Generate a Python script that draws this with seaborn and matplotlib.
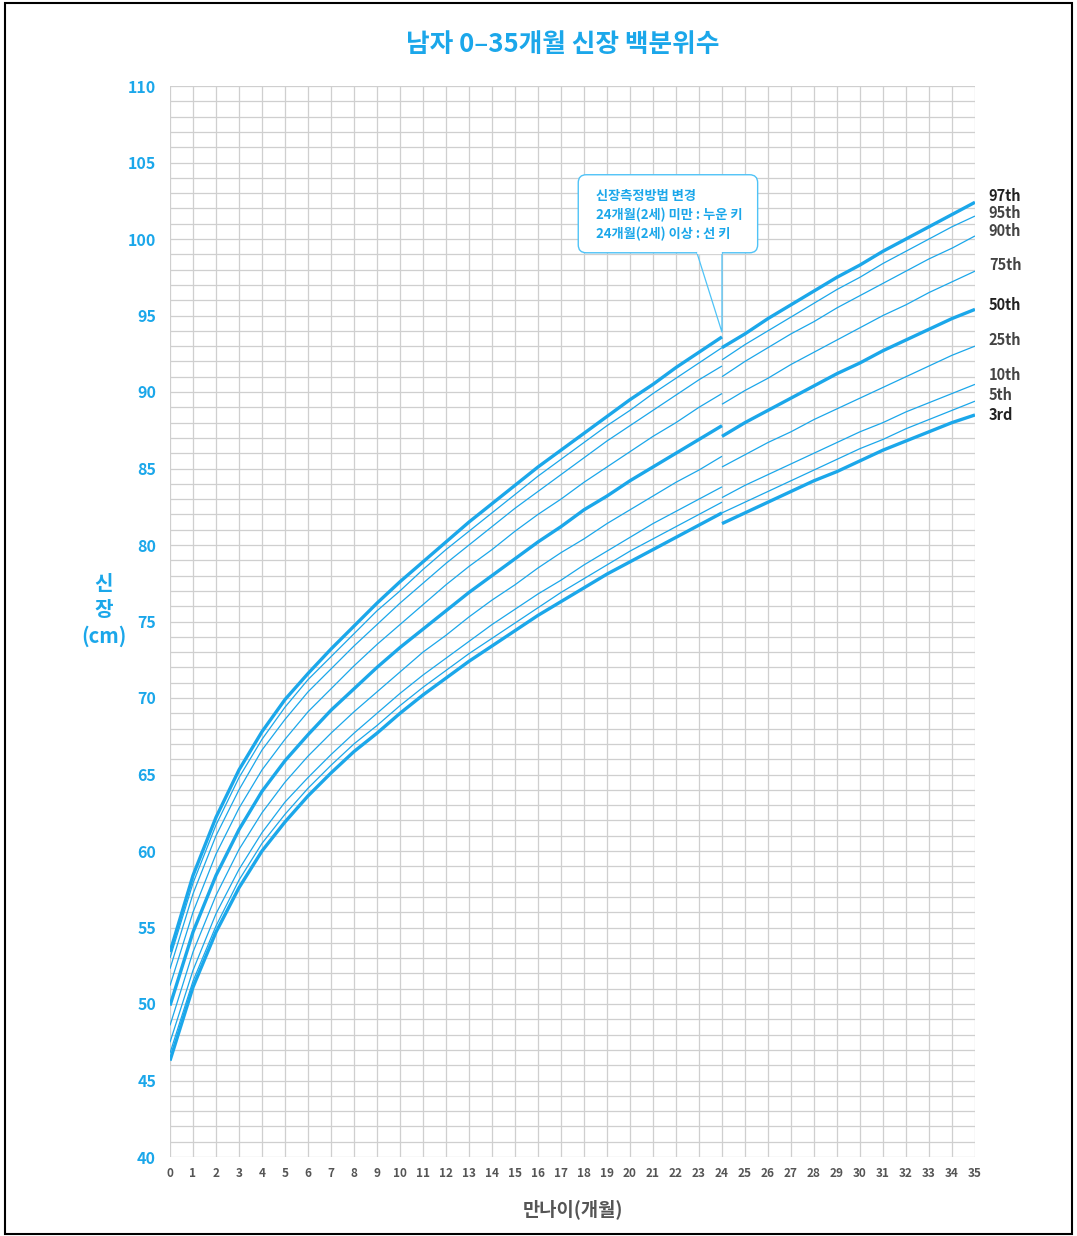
import numpy as np
import matplotlib
matplotlib.use("Agg")
import matplotlib.pyplot as plt
from matplotlib.patches import FancyBboxPatch, Polygon, Rectangle
import seaborn as sns
import pandas as pd

sns.set_style("white")
plt.rcParams['font.family'] = ['Noto Sans CJK KR', 'DejaVu Sans']

# percentiles (boys, height in cm)
percentiles = ['3rd', '5th', '10th', '25th', '50th', '75th', '90th', '95th', '97th']
bold_lines = ['3rd', '50th', '97th']

# 0-24 months: lying length
months_lying = list(range(0, 25))
lying = {
    '3rd':  [46.3, 51.1, 54.7, 57.6, 60.0, 61.9, 63.6, 65.1, 66.5, 67.7, 69.0, 70.2, 71.3,
             72.4, 73.4, 74.4, 75.4, 76.3, 77.2, 78.1, 78.9, 79.7, 80.5, 81.3, 82.1],
    '5th':  [46.8, 51.5, 55.1, 58.1, 60.5, 62.4, 64.1, 65.6, 67.0, 68.2, 69.5, 70.7, 71.8,
             72.9, 73.9, 74.9, 75.9, 76.9, 77.8, 78.7, 79.6, 80.4, 81.2, 82.0, 82.8],
    '10th': [47.5, 52.2, 55.9, 58.8, 61.2, 63.2, 64.8, 66.3, 67.7, 69.0, 70.3, 71.5, 72.6,
             73.7, 74.8, 75.8, 76.8, 77.7, 78.7, 79.6, 80.5, 81.4, 82.2, 83.0, 83.8],
    '25th': [48.6, 53.4, 57.1, 60.1, 62.5, 64.5, 66.2, 67.7, 69.1, 70.4, 71.7, 73.0, 74.1,
             75.3, 76.4, 77.4, 78.5, 79.5, 80.4, 81.4, 82.3, 83.2, 84.1, 84.9, 85.8],
    '50th': [49.9, 54.7, 58.4, 61.4, 63.9, 65.9, 67.6, 69.2, 70.6, 72.0, 73.3, 74.5, 75.7,
             76.9, 78.0, 79.1, 80.2, 81.2, 82.3, 83.2, 84.2, 85.1, 86.0, 86.9, 87.8],
    '75th': [51.2, 56.0, 59.8, 62.8, 65.3, 67.3, 69.1, 70.6, 72.1, 73.5, 74.8, 76.1, 77.4,
             78.6, 79.7, 80.9, 82.0, 83.0, 84.1, 85.1, 86.1, 87.1, 88.0, 89.0, 89.9],
    '90th': [52.3, 57.2, 61.0, 64.0, 66.6, 68.6, 70.4, 71.9, 73.4, 74.8, 76.2, 77.5, 78.8,
             80.0, 81.2, 82.4, 83.5, 84.6, 85.7, 86.8, 87.8, 88.8, 89.8, 90.8, 91.7],
    '95th': [53.0, 57.9, 61.7, 64.8, 67.3, 69.4, 71.2, 72.7, 74.2, 75.7, 77.0, 78.4, 79.7,
             80.9, 82.1, 83.3, 84.5, 85.6, 86.7, 87.8, 88.8, 89.9, 90.9, 91.9, 92.9],
    '97th': [53.4, 58.4, 62.2, 65.3, 67.8, 69.9, 71.6, 73.2, 74.7, 76.2, 77.6, 78.9, 80.2,
             81.5, 82.7, 83.9, 85.1, 86.2, 87.3, 88.4, 89.5, 90.5, 91.6, 92.6, 93.6],
}

# 24-35 months: standing height
months_standing = list(range(24, 36))
standing = {
    '3rd':  [81.4, 82.1, 82.8, 83.5, 84.2, 84.8, 85.5, 86.2, 86.8, 87.4, 88.0, 88.5],
    '5th':  [82.1, 82.8, 83.5, 84.2, 84.9, 85.6, 86.3, 86.9, 87.6, 88.2, 88.8, 89.4],
    '10th': [83.1, 83.9, 84.6, 85.3, 86.0, 86.7, 87.4, 88.0, 88.7, 89.3, 89.9, 90.5],
    '25th': [85.1, 85.9, 86.7, 87.4, 88.2, 88.9, 89.6, 90.3, 91.0, 91.7, 92.4, 93.0],
    '50th': [87.1, 88.0, 88.8, 89.6, 90.4, 91.2, 91.9, 92.7, 93.4, 94.1, 94.8, 95.4],
    '75th': [89.2, 90.1, 90.9, 91.8, 92.6, 93.4, 94.2, 95.0, 95.7, 96.5, 97.2, 97.9],
    '90th': [91.0, 92.0, 92.9, 93.8, 94.6, 95.5, 96.3, 97.1, 97.9, 98.7, 99.4, 100.2],
    '95th': [92.1, 93.1, 94.0, 94.9, 95.8, 96.7, 97.5, 98.4, 99.2, 100.0, 100.8, 101.5],
    '97th': [92.9, 93.8, 94.8, 95.7, 96.6, 97.5, 98.3, 99.2, 100.0, 100.8, 101.6, 102.4],
}

# nudges so the right-hand labels do not collide
label_nudge = [0.0, 0.4, 0.6, 0.4, 0.3, 0.4, 0.3, 0.2, 0.4]

blue = '#1ba7ea'
grid_c = '#cfcfcf'

rows = []
for p in percentiles:
    for m, h in zip(months_lying, lying[p]):
        rows.append((m, h, p, 'lying'))
    for m, h in zip(months_standing, standing[p]):
        rows.append((m, h, p, 'standing'))
df = pd.DataFrame(rows, columns=['month', 'height', 'pct', 'seg'])

fig = plt.figure(figsize=(10.77, 12.36), dpi=100)
ax = fig.add_axes([170 / 1077, 79 / 1236, 805 / 1077, 1071 / 1236])

for p in percentiles:
    lw = 2.4 if p in bold_lines else 0.9
    for seg in ['lying', 'standing']:
        sub = df[(df.pct == p) & (df.seg == seg)]
        sns.lineplot(data=sub, x='month', y='height', ax=ax, color=blue,
                     linewidth=lw, solid_capstyle='butt', zorder=3)

ax.set_xlim(0, 35)
ax.set_ylim(40, 110)
ax.set_xticks(range(0, 36))
ax.set_yticks(range(40, 111, 5))
ax.set_yticks(range(40, 111), minor=True)
ax.grid(True, which='both', color=grid_c, linewidth=0.9)
ax.set_axisbelow(True)
for s in ax.spines.values():
    s.set_visible(False)
ax.tick_params(axis='both', which='both', length=0)
ax.tick_params(axis='y', pad=10, labelsize=11.5, labelcolor=blue)
ax.tick_params(axis='x', pad=7, labelsize=8.5, labelcolor='#555555')
for t in ax.get_yticklabels():
    t.set_fontweight('bold')
for t in ax.get_xticklabels():
    t.set_fontweight('bold')
ax.set_xlabel('만나이(개월)', fontsize=13.5, color='#555555', fontweight='bold', labelpad=14)
ax.set_ylabel('')
fig.text(104 / 1077, 1 - 610 / 1236, '신\n장\n(cm)', ha='center', va='center',
         fontsize=14.5, color=blue, fontweight='bold', linespacing=1.3)

# percentile labels at the right end
for p, nudge in zip(percentiles, label_nudge):
    yv = standing[p][-1] + nudge
    ax.text(35.6, yv, p, ha='left', va='center', fontsize=10.5,
            color='#222222' if p in bold_lines else '#444444',
            fontweight='heavy' if p in bold_lines else 'bold', clip_on=False)

# call-out box for the measurement change
box = FancyBboxPatch((17.75, 99.1), 7.8, 5.1, boxstyle='round,pad=0,rounding_size=0.35',
                     facecolor='white', edgecolor='#4fc3f7', linewidth=1.0, zorder=5,
                     mutation_aspect=1.5)
ax.add_patch(box)
ax.add_patch(Polygon([(22.9, 99.15), (24.0, 93.9), (24.0, 99.15)], closed=False,
                     facecolor='none', edgecolor='#4fc3f7', linewidth=0.9, zorder=6))
ax.plot([22.95, 23.95], [99.1, 99.1], color='white', linewidth=1.6, zorder=6)
ax.text(18.5, 102.8, '신장측정방법 변경', fontsize=9.5, color=blue, fontweight='bold',
        va='center', zorder=7)
ax.text(18.5, 101.55, '24개월(2세) 미만 : 누운 키', fontsize=9.5, color=blue,
        fontweight='bold', va='center', zorder=7)
ax.text(18.5, 100.3, '24개월(2세) 이상 : 선 키', fontsize=9.5, color=blue,
        fontweight='bold', va='center', zorder=7)

fig.text(563 / 1077, 1 - 45 / 1236, '남자 0–35개월 신장 백분위수', ha='center', va='center',
         fontsize=18.5, color=blue, fontweight='bold')

fig.patches.append(Rectangle((5 / 1077, 0.002), 1067 / 1077, 1 - 3 / 1236 - 0.002,
                             transform=fig.transFigure, fill=False, edgecolor='black',
                             linewidth=1.5))

fig.savefig('out.png', dpi=100)
